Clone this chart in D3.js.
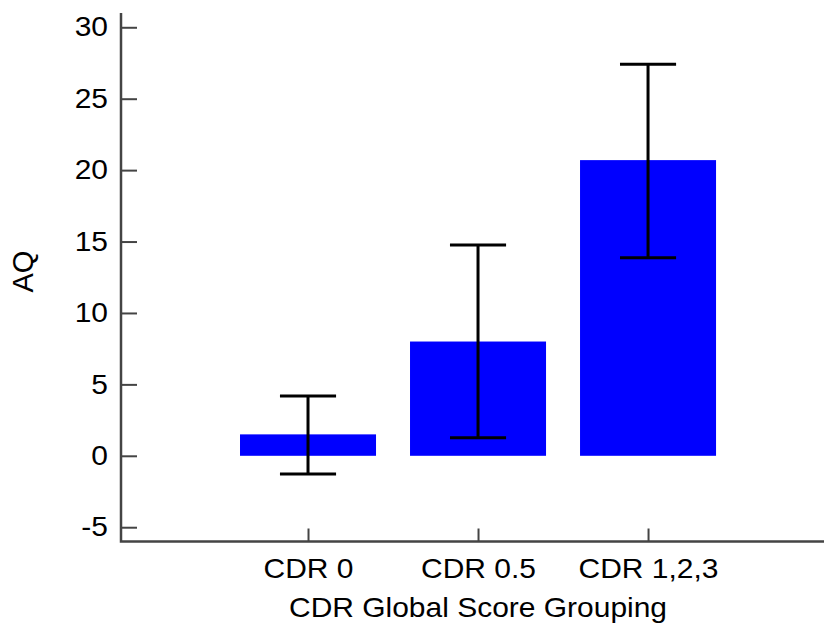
<!DOCTYPE html>
<html>
<head>
<meta charset="utf-8">
<script src="https://cdn.jsdelivr.net/npm/d3@7"></script>
<style>
  body { margin: 0; background: #fff; }
  text { font-family: "Liberation Sans", Arial, sans-serif; fill: #000; }
</style>
</head>
<body>
<svg id="chart" width="824" height="630"></svg>
<script>
const groups = ['CDR 0', 'CDR 0.5', 'CDR 1,2,3'];
const means = [1.5, 8.0, 20.7];
const errLow = [-1.28, 1.26, 13.87];
const errHigh = [4.19, 14.76, 27.42];
const yTicks = [-5, 0, 5, 10, 15, 20, 25, 30];

const svg = d3.select('#chart');
const plotLeft = 121, plotRight = 824, plotTop = 13, plotBottom = 541.5;
const fontSize = 27;
const stretch = 1.11; // the original image is a bit wider than tall

// categorical positions 1..3 on a numeric axis, like the original plot
const x = d3.scaleLinear().domain([-0.1, 4.035]).range([plotLeft, plotRight]);
const y = d3.scaleLinear().domain([-6, 31]).range([plotBottom, plotTop]);
const barW = x(0.8) - x(0);
const capW = x(0.33) - x(0);

const data = groups.map((g, i) => ({ g, i: i + 1, m: means[i], lo: errLow[i], hi: errHigh[i] }));

svg.append('g')
  .selectAll('rect')
  .data(data)
  .join('rect')
  .attr('x', d => x(d.i) - barW / 2)
  .attr('width', barW)
  .attr('y', d => y(Math.max(0, d.m)))
  .attr('height', d => Math.abs(y(d.m) - y(0)))
  .attr('fill', '#0000ff');

const err = svg.append('g').attr('stroke', '#000').attr('stroke-width', 3).attr('fill', 'none');
err.selectAll('path')
  .data(data)
  .join('path')
  .attr('d', d => {
    const cx = x(d.i), a = y(d.hi), b = y(d.lo);
    return `M${cx - capW / 2},${a}H${cx + capW / 2}M${cx},${a}V${b}M${cx - capW / 2},${b}H${cx + capW / 2}`;
  });

// axes
const yAxis = svg.append('g')
  .attr('transform', `translate(${plotLeft},0)`)
  .call(d3.axisRight(y).tickValues(yTicks).tickSize(16).tickFormat(d => String(d)));
yAxis.select('.domain').remove();
yAxis.selectAll('.tick line').attr('stroke', '#444').attr('stroke-width', 2);
yAxis.selectAll('.tick text')
  .attr('x', 0)
  .attr('transform', `translate(-13,0) scale(${stretch},1)`)
  .attr('text-anchor', 'end')
  .attr('font-size', fontSize);

const xAxis = svg.append('g')
  .attr('transform', `translate(0,${plotBottom})`)
  .call(d3.axisTop(x).tickValues([1, 2, 3]).tickSize(13).tickFormat(d => groups[d - 1]));
xAxis.select('.domain').remove();
xAxis.selectAll('.tick line').attr('stroke', '#444').attr('stroke-width', 2);
xAxis.selectAll('.tick text')
  .attr('y', 0)
  .attr('dy', 0)
  .attr('transform', `translate(0,36) scale(${stretch},1)`)
  .attr('font-size', fontSize);

svg.append('path')
  .attr('d', `M${plotLeft},${plotTop}V${plotBottom}H${plotRight}`)
  .attr('fill', 'none')
  .attr('stroke', '#444')
  .attr('stroke-width', 2.5);

svg.append('text')
  .attr('transform', `translate(${x(2)},617) scale(${stretch},1)`)
  .attr('text-anchor', 'middle')
  .attr('font-size', fontSize)
  .text('CDR Global Score Grouping');

svg.append('text')
  .attr('transform', `translate(33,${y(12.9)}) rotate(-90)`)
  .attr('text-anchor', 'middle')
  .attr('font-size', 29)
  .text('AQ');
</script>
</body>
</html>
